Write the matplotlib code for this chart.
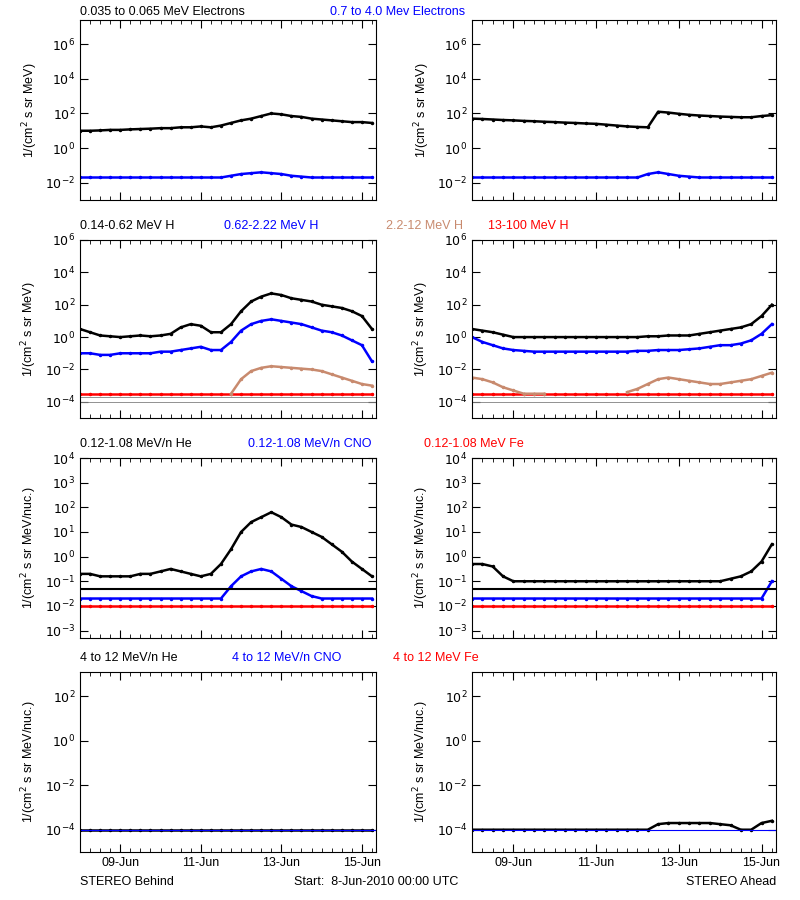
import numpy as np
import matplotlib
matplotlib.use("Agg")
import matplotlib.pyplot as plt

# time in days since 8-Jun-2010 00:00
t = [0.0,0.25,0.5,0.75,1.0,1.25,1.5,1.75,2.0,2.25,2.5,2.75,3.0,3.25,3.5,3.75,
     4.0,4.25,4.5,4.75,5.0,5.25,5.5,5.75,6.0,6.25,6.5,6.75,7.0,7.25]

# log10 flux values
e_lo_B = [1.0,1.0,1.02,1.05,1.05,1.08,1.1,1.12,1.15,1.15,1.2,1.2,1.25,1.2,1.3,1.45,1.6,1.7,1.85,2.0,1.95,1.85,1.8,1.7,1.65,1.6,1.55,1.5,1.5,1.45]
e_hi_B = [-1.7]*15 + [-1.6,-1.5,-1.45,-1.4,-1.45,-1.5,-1.6,-1.65,-1.7,-1.7,-1.7,-1.7,-1.7,-1.7,-1.7]
e_lo_A = [1.7,1.68,1.65,1.62,1.6,1.57,1.55,1.52,1.5,1.47,1.45,1.42,1.4,1.35,1.3,1.25,1.22,1.2,2.1,2.05,1.98,1.92,1.88,1.85,1.82,1.8,1.78,1.78,1.85,1.9]
e_hi_A = [-1.7]*17 + [-1.5,-1.4,-1.5,-1.6,-1.65,-1.7,-1.7,-1.7,-1.7,-1.7,-1.7,-1.7,-1.7]

h1_B = [0.5,0.3,0.1,0.05,0.0,0.05,0.1,0.05,0.1,0.2,0.6,0.8,0.7,0.3,0.3,0.8,1.6,2.2,2.5,2.7,2.6,2.4,2.3,2.2,2.0,1.9,1.8,1.6,1.3,0.5]
h2_B = [-1.0,-1.0,-1.1,-1.1,-1.0,-1.0,-1.0,-1.0,-0.9,-0.9,-0.8,-0.7,-0.6,-0.8,-0.8,-0.3,0.4,0.8,1.0,1.1,1.0,0.9,0.8,0.6,0.4,0.3,0.1,-0.2,-0.5,-1.5]
h3_B = [None]*15 + [-3.5,-2.6,-2.1,-1.9,-1.8,-1.85,-1.9,-1.95,-2.0,-2.1,-2.3,-2.5,-2.7,-2.9,-3.0]
h4_B = [-3.5]*30
h1_A = [0.5,0.4,0.3,0.15,0.0,0.0,0.0,0.0,0.0,0.0,0.0,0.0,0.0,0.0,0.0,0.0,0.0,0.05,0.05,0.1,0.1,0.1,0.2,0.3,0.4,0.5,0.6,0.8,1.3,2.0]
h2_A = [0.0,-0.3,-0.5,-0.7,-0.8,-0.85,-0.9,-0.9,-0.9,-0.9,-0.9,-0.9,-0.9,-0.9,-0.9,-0.9,-0.85,-0.85,-0.8,-0.8,-0.8,-0.75,-0.7,-0.6,-0.5,-0.5,-0.4,-0.2,0.2,0.8]
h3_A = [-2.5,-2.6,-2.8,-3.1,-3.3,-3.5,-3.5,-3.5,None,None,None,None,None,None,None,-3.4,-3.2,-2.9,-2.6,-2.5,-2.6,-2.7,-2.8,-2.9,-2.9,-2.8,-2.7,-2.6,-2.4,-2.2]
h4_A = [-3.5]*30

he_B = [-0.7,-0.7,-0.8,-0.8,-0.8,-0.8,-0.7,-0.7,-0.6,-0.5,-0.6,-0.7,-0.8,-0.7,-0.3,0.3,1.0,1.4,1.6,1.8,1.6,1.3,1.2,1.0,0.8,0.5,0.2,-0.2,-0.5,-0.8]
cno_B = [-1.7]*15 + [-1.2,-0.8,-0.6,-0.5,-0.6,-0.9,-1.2,-1.4,-1.6,-1.7,-1.7,-1.7,-1.7,-1.7,-1.7]
fe_B = [-2.0]*30
he_A = [-0.3,-0.3,-0.4,-0.8,-1.0,-1.0,-1.0,-1.0,-1.0,-1.0,-1.0,-1.0,-1.0,-1.0,-1.0,-1.0,-1.0,-1.0,-1.0,-1.0,-1.0,-1.0,-1.0,-1.0,-1.0,-0.9,-0.8,-0.6,-0.2,0.5]
cno_A = [-1.7]*29 + [-1.0]
fe_A = [-2.0]*30

he4_B = [-4.0]*30
he4_A = [-4.0]*18 + [-3.75,-3.7,-3.7,-3.7,-3.7,-3.7,-3.75,-3.8,-4.0,-4.0,-3.7,-3.6]

days = [1, 3, 5, 7]
day_labels = ["09-Jun", "11-Jun", "13-Jun", "15-Jun"]

W, H = 800, 900
fig = plt.figure(figsize=(8, 9), dpi=100)
plt.rcParams['font.family'] = 'Liberation Sans'

def ax_at(x0, y0, x1, y1):
    return fig.add_axes([x0 / W, 1 - y1 / H, (x1 - x0) / W, (y1 - y0) / H])

def arr(v):
    return np.array([np.nan if a is None else 10 ** a for a in v])

rows = [(20, 200, (1e-3, 2.5e7), range(-2, 7, 2), "1/(cm$^2$ s sr MeV)"),
        (240, 418, (1e-5, 1e6), range(-4, 7, 2), "1/(cm$^2$ s sr MeV)"),
        (458, 638, (5e-4, 1e4), range(-3, 5, 1), "1/(cm$^2$ s sr MeV/nuc.)"),
        (672, 852, (1e-5, 1.2e3), range(-4, 3, 2), "1/(cm$^2$ s sr MeV/nuc.)")]

series = [
    ([(e_lo_B, 'black'), (e_hi_B, 'blue')], [(e_lo_A, 'black'), (e_hi_A, 'blue')]),
    ([(h4_B, 'red'), (h3_B, '#c88a6e'), (h2_B, 'blue'), (h1_B, 'black')],
     [(h4_A, 'red'), (h3_A, '#c88a6e'), (h2_A, 'blue'), (h1_A, 'black')]),
    ([(fe_B, 'red'), (cno_B, 'blue'), (he_B, 'black')], [(fe_A, 'red'), (cno_A, 'blue'), (he_A, 'black')]),
    ([(he4_B, 'black')], [(he4_A, 'black')]),
]
titles = [
    [("0.035 to 0.065 MeV Electrons", 'black'), ("0.7 to 4.0 Mev Electrons", 'blue')],
    [("0.14-0.62 MeV H", 'black'), ("0.62-2.22 MeV H", 'blue'), ("2.2-12 MeV H", '#c88a6e'), ("13-100 MeV H", 'red')],
    [("0.12-1.08 MeV/n He", 'black'), ("0.12-1.08 MeV/n CNO", 'blue'), ("0.12-1.08 MeV Fe", 'red')],
    [("4 to 12 MeV/n He", 'black'), ("4 to 12 MeV/n CNO", 'blue'), ("4 to 12 MeV Fe", 'red')],
]
title_x = [[80, 330], [80, 224, 386, 488], [80, 248, 424], [80, 232, 393]]

for r, (y0, y1, ylim, yt, ylab) in enumerate(rows):
    for c, (x0, x1) in enumerate([(80, 376), (472, 776)]):
        ax = ax_at(x0, y0, x1, y1)
        ax.set_yscale('log')
        ax.set_xlim(0, 7.35)
        ax.set_ylim(*ylim)
        tv = np.array(t)
        for vals, col in series[r][c]:
            ax.plot(tv, arr(vals), color=col, lw=1.8, marker='.', ms=3)
        if r == 1:
            ax.axhline(1e-4, color='gray', lw=0.6)
            ax.axhline(2e-4, color='gray', lw=0.6)
        if r == 2:
            ax.axhline(10 ** -1.3, color='black', lw=1.5)
        if r == 3:
            ax.axhline(1e-4, color='blue', lw=0.8)
        ax.set_yticks([10.0 ** k for k in yt])
        ax.set_yticklabels([f"$10^{{{k}}}$" for k in yt])
        ax.yaxis.set_minor_locator(matplotlib.ticker.NullLocator())
        ax.set_xticks(days)
        ax.set_xticklabels(day_labels if r == 3 else [])
        ax.set_xticks(np.arange(0, 7.35, 0.25), minor=True)
        ax.tick_params(direction='in', top=True, right=True, labelsize=9, length=6)
        ax.tick_params(which='minor', direction='in', top=True, length=3)
        ax.set_ylabel(ylab, fontsize=9)
    ty = y0 - 8 if r == 0 else y0 - 14
    for (txt, col), xx in zip(titles[r], title_x[r]):
        fig.text(xx / W, 1 - ty / H, txt, color=col, fontsize=9, va='center')

fig.text(80 / W, 1 - 882 / H, "STEREO Behind", fontsize=9, va='center')
fig.text(294 / W, 1 - 882 / H, "Start:  8-Jun-2010 00:00 UTC", fontsize=9, va='center')
fig.text(776 / W, 1 - 882 / H, "STEREO Ahead", fontsize=9, va='center', ha='right')

fig.savefig("out.png", dpi=100)
